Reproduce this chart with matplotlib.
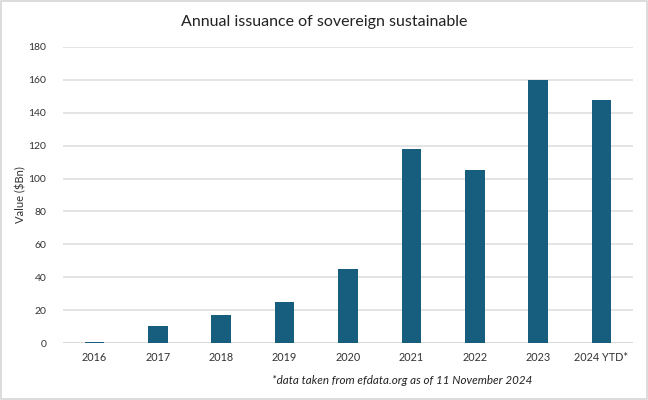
import matplotlib
matplotlib.use('Agg')
import matplotlib.pyplot as plt
from matplotlib.patches import Rectangle

plt.rcParams['font.family'] = ['Lato', 'DejaVu Sans']

# data
years = ['2016', '2017', '2018', '2019', '2020', '2021', '2022', '2023', '2024 YTD*']
values = [0.8, 10.4, 17.4, 25, 44.8, 117.8, 105.3, 160, 147.9]
yticks = [0, 20, 40, 60, 80, 100, 120, 140, 160, 180]

bar_color = '#175e7e'
grid_color = '#e2e2e2'

fig = plt.figure(figsize=(6.48, 4.0), dpi=100)
ax = fig.add_axes([0.097, 0.142, 0.88, 0.741])

x = list(range(len(years)))
ax.bar(x, values, width=0.31, color=bar_color, zorder=3)

ax.set_xlim(-0.5, len(years) - 0.5)
ax.set_ylim(0, 180)
ax.set_yticks(yticks)
ax.set_xticks(x)
ax.set_xticklabels(years)
ax.yaxis.grid(True, color=grid_color, linewidth=1.3, zorder=0)
ax.set_axisbelow(True)
for side in ['top', 'right', 'left', 'bottom']:
    ax.spines[side].set_visible(False)
ax.axhline(0, color='#d9d9d9', linewidth=1.3, zorder=2)
ax.tick_params(axis='both', length=0, labelsize=7.8, colors='#333333')
ax.tick_params(axis='y', pad=12, labelsize=7.5)
ax.tick_params(axis='x', pad=6)

ax.set_ylabel(r'Value (\$Bn)', fontsize=8, color='#333333')
ax.yaxis.set_label_coords(-0.064, 0.5)

fig.text(0.5, 0.945, 'Annual issuance of sovereign sustainable', ha='center', va='center',
         fontsize=11.5, color='#222222')
fig.text(0.62, 0.048, '*data taken from efdata.org as of 11 November 2024', ha='center',
         va='center', fontsize=8.4, style='italic', color='#222222')

# light frame round the whole picture
fig.patches.append(Rectangle((0.002, 0.003), 0.996, 0.994, transform=fig.transFigure,
                             fill=False, edgecolor='#d6d6d6', linewidth=1.2))

fig.savefig('out.png', dpi=100)
